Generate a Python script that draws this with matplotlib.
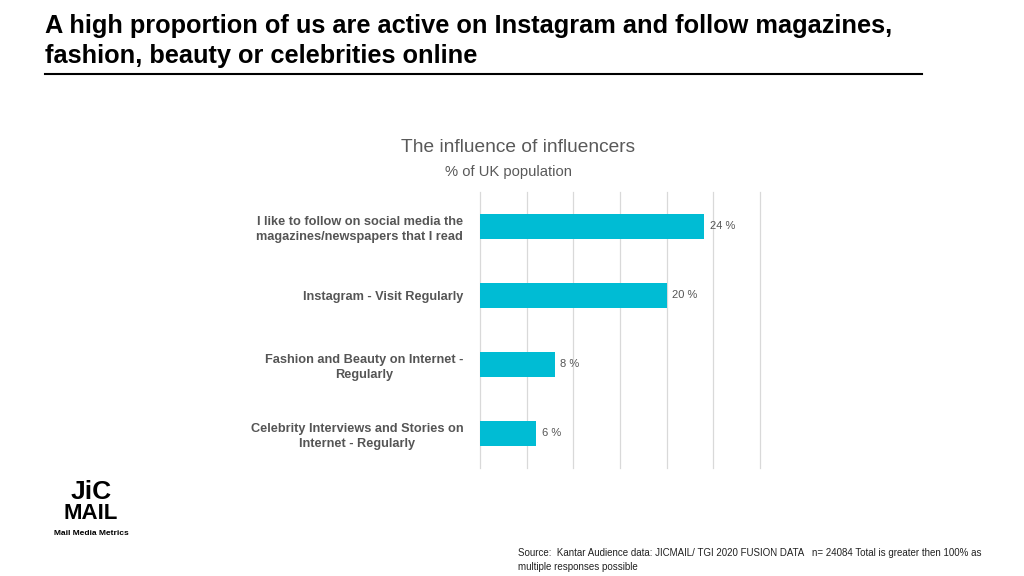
import matplotlib.pyplot as plt

categories = [
    "I like to follow on social media the\nmagazines/newspapers that I read",
    "Instagram - Visit Regularly",
    "Fashion and Beauty on Internet -\nRegularly",
    "Celebrity Interviews and Stories on\nInternet - Regularly",
]
values = [24, 20, 8, 6]
value_labels = ["24 %", "20 %", "8 %", "6 %"]

plt.rcParams['font.family'] = ['Liberation Sans', 'DejaVu Sans']

fig = plt.figure(figsize=(10.24, 5.76), dpi=100)
ax = fig.add_axes([0.46875, 0.188, 0.2734, 0.479])

ypos = range(len(categories))
ax.barh(ypos, values, height=0.36, color='#00BCD4')
ax.set_xlim(0, 30)
ax.set_ylim(3.5, -0.5)
ax.set_xticks(range(0, 31, 5))
ax.tick_params(axis='x', length=0, labelbottom=False)
ax.tick_params(axis='y', length=0, pad=12)
ax.set_yticks(list(ypos))
ax.set_yticklabels(categories, fontsize=9.2, fontweight='bold', color='#555555',
                   multialignment='center', linespacing=1.35)
ax.grid(axis='x', color='#d9d9d9', linewidth=0.9)
for gl in ax.get_xgridlines():
    gl.set_clip_on(False)
ax.set_axisbelow(True)
for s in ax.spines.values():
    s.set_visible(False)

for y, v, lab in zip(ypos, values, value_labels):
    ax.text(v + 0.6, y, lab, va='center', ha='left', fontsize=8, color='#555555')

# headline
fig.text(0.044, 0.9427, "A high proportion of us are active on Instagram and follow magazines,",
         fontsize=18.3, fontweight='bold', color='black', va='baseline', ha='left')
fig.text(0.044, 0.8906, "fashion, beauty or celebrities online",
         fontsize=18.3, fontweight='bold', color='black', va='baseline', ha='left')
fig.add_artist(plt.Line2D([0.044, 0.900], [0.871, 0.871], color='black', linewidth=1.5))

# chart title
fig.text(0.506, 0.744, "The influence of influencers", fontsize=13.8, color='#595959', ha='center', va='center')
fig.text(0.497, 0.702, "% of UK population", fontsize=10.6, color='#595959', ha='center', va='center')

# logo
fig.text(0.089, 0.146, "JiC", fontsize=19, fontweight='heavy', color='black', ha='center', va='center')
fig.text(0.089, 0.108, "MAIL", fontsize=16, fontweight='heavy', color='black', ha='center', va='center')
fig.text(0.089, 0.074, "Mail Media Metrics", fontsize=6, fontweight='bold', color='black', ha='center', va='center')

# source
fig.text(0.506, 0.027, "Source:  Kantar Audience data: JICMAIL/ TGI 2020 FUSION DATA   n= 24084 Total is greater then 100% as\nmultiple responses possible",
         fontsize=7, color='#222222', ha='left', va='center', linespacing=1.5)

fig.savefig('out.png', dpi=100)
